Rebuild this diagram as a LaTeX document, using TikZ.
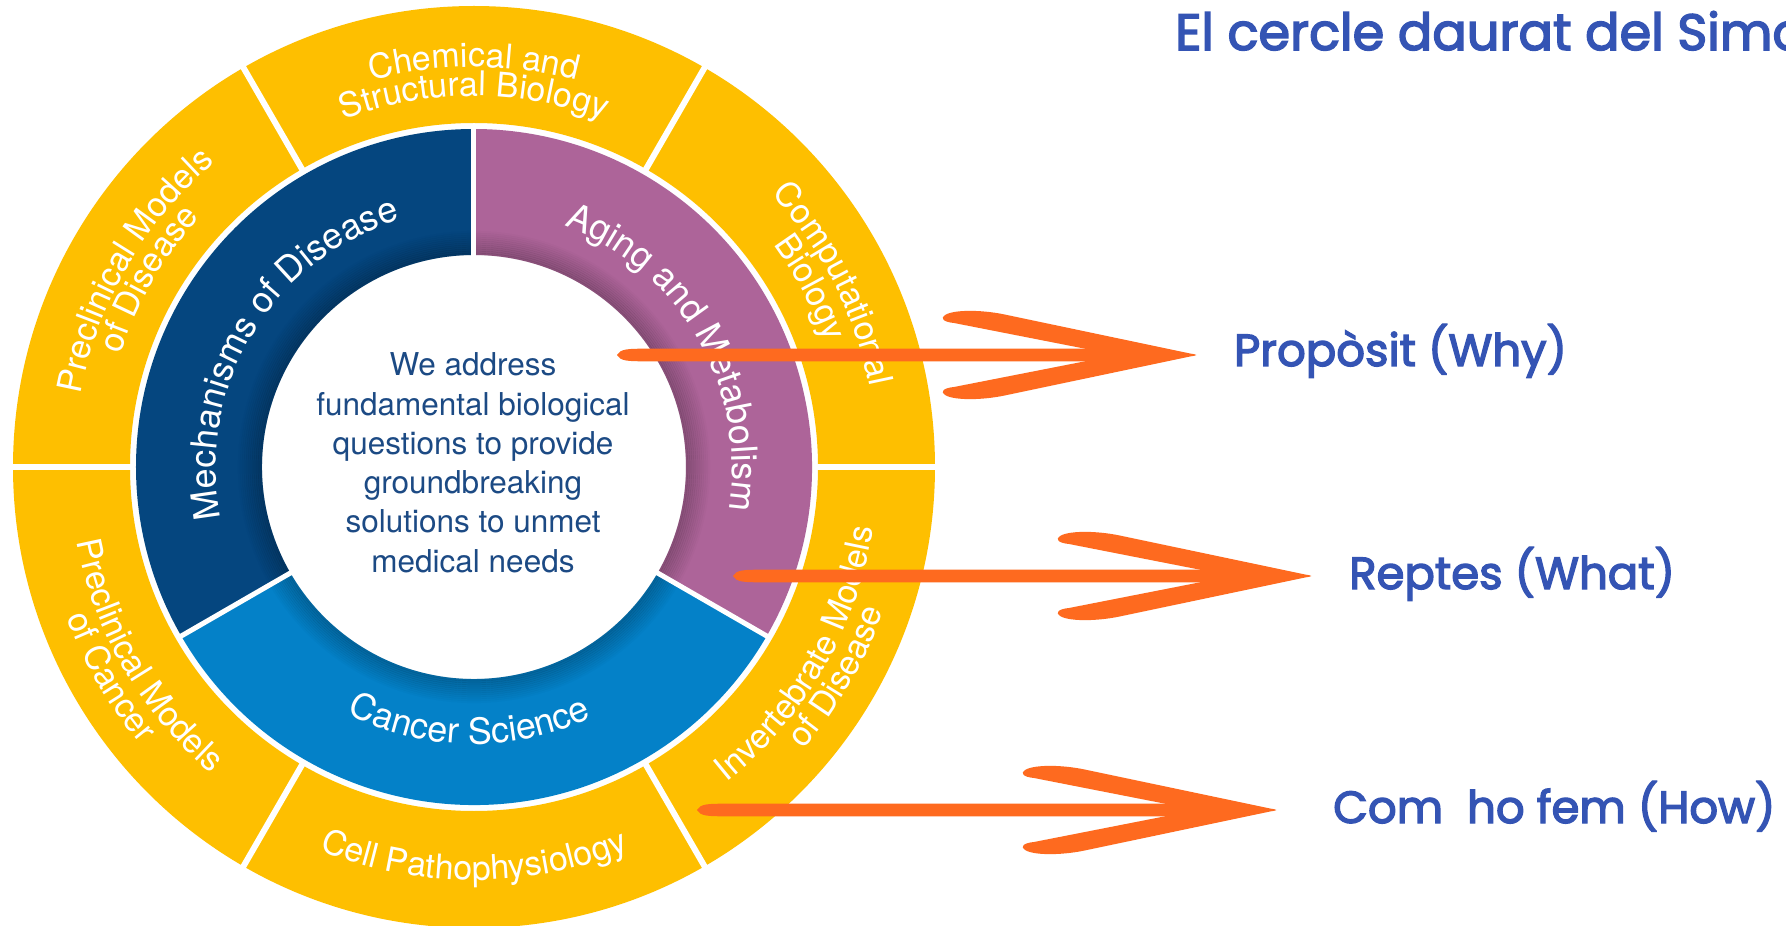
\documentclass[tikz,border=0pt]{standalone}
\usepackage{fontspec}
\setmainfont{TeX Gyre Heros}
\newfontfamily\labelfont{Poppins}[FakeBold=3]
\usetikzlibrary{decorations.text,calc}
\definecolor{ygold}{HTML}{FEBF00}
\definecolor{mdis}{HTML}{05467F}
\definecolor{mpur}{HTML}{AD6499}
\definecolor{mcan}{HTML}{0481C8}
\definecolor{ctext}{HTML}{1C4A84}
\definecolor{lblue}{HTML}{3454B4}
\definecolor{arrowor}{HTML}{FE6A1F}
\newcommand\yfont{\fontsize{34}{40}\selectfont}
\newcommand\mfont{\fontsize{36}{43}\selectfont}
\newcommand\cwlabel[4]{\path[decorate,decoration={text along path,text align=center,text color=white,text={|#3|#4}}] ({#1+85}:#2) arc[start angle={#1+85},end angle={#1-85},radius=#2];}
\newcommand\ccwlabel[4]{\path[decorate,decoration={text along path,text align=center,text color=white,text={|#3|#4}}] ({#1-85}:#2) arc[start angle={#1-85},end angle={#1+85},radius=#2];}
\tikzset{
  arrowfill/.style={fill=arrowor},
  labeltext/.style={font=\labelfont\fontsize{45}{54}\selectfont,text=lblue,inner sep=0pt,anchor=base west},
  titletext/.style={font=\labelfont\fontsize{51}{60}\selectfont,text=lblue,inner sep=0pt,anchor=base west},
  centertext/.style={font=\fontsize{31.5}{39}\selectfont,text=ctext,inner sep=0pt,anchor=base},
  headpic/.pic={\fill[arrowfill] (-6,1.3) .. controls (1,0.4) and (1,-0.4) .. (-6,-1.3)
     -- (-190,-40) .. controls (-212,-45) and (-242,-46) .. (-252,-40)
     .. controls (-257,-37) and (-254,-33) .. (-243,-32) -- (-112,-6.3) -- (-112,6.3) -- (-243,32)
     .. controls (-254,33) and (-257,37) .. (-252,40)
     .. controls (-242,46) and (-212,45) .. (-190,40) -- cycle;}
}
\begin{document}
\begin{tikzpicture}[x=1pt,y=1pt]
\useasboundingbox (-474,-459) rectangle (1312,467);
\fill[white] (-474,-459) rectangle (1312,467);
\clip (-474,-459) rectangle (1312,467);
% outer yellow ring
\fill[ygold,even odd rule] (0,0) circle[radius=461] (0,0) circle[radius=344];
\foreach \a in {0,60,...,300} \draw[white,line width=6] (\a:336) -- (\a:466);
% middle ring
\fill[mdis] (90:338) arc[start angle=90,end angle=210,radius=338] -- (210:212) arc[start angle=210,end angle=90,radius=212] -- cycle;
\fill[mcan] (210:338) arc[start angle=210,end angle=330,radius=338] -- (330:212) arc[start angle=330,end angle=210,radius=212] -- cycle;
\fill[mpur] (-30:338) arc[start angle=-30,end angle=90,radius=338] -- (90:212) arc[start angle=90,end angle=-30,radius=212] -- cycle;
\foreach \i [evaluate=\i as \op using 0.017*(12-\i)] in {0,...,11}
  \draw[black,opacity=\op,line width=2.2] (0,0) circle[radius={213+2*\i}];
\foreach \a in {90,210,330} \draw[white,line width=5] (\a:206) -- (\a:342);
% yellow ring labels
\cwlabel{90}{400}{\yfont}{Chemical and}
\cwlabel{90}{371}{\yfont}{Structural Biology}
\cwlabel{27}{404}{\yfont}{Computational}
\cwlabel{28}{373}{\yfont}{Biology}
\cwlabel{150}{400}{\yfont}{Preclinical Models}
\cwlabel{150}{371}{\yfont}{of Disease}
\ccwlabel{210}{404}{\yfont}{Preclinical Models}
\ccwlabel{210}{434}{\yfont}{of Cancer}
\ccwlabel{270}{413}{\yfont}{Cell Pathophysiology}
\ccwlabel{330}{404}{\yfont}{Invertebrate Models}
\ccwlabel{330}{434}{\yfont}{of Disease}
% middle ring labels
\cwlabel{149}{258}{\mfont}{Mechanisms of Disease}
\cwlabel{30}{258}{\mfont}{Aging and Metabolism}
\ccwlabel{269}{277}{\mfont}{Cancer Science}
% center text
\node[centertext] (c1) at (-1,91) {We address};
\node[centertext] (c2) at (-1,51) {fundamental biological};
\node[centertext] (c3) at (-1,12) {questions to provide};
\node[centertext] (c4) at (-1,-27) {groundbreaking};
\node[centertext] (c5) at (-1,-66) {solutions to unmet};
\node[centertext] (c6) at (-1,-105) {medical needs};
% right side
\node[titletext] (title) at (701,417) {El cercle daurat del Simon Sinek};
\node[labeltext] (why) at (760,101) {Propòsit (Why)};
\node[labeltext] (what) at (875,-122) {Reptes (What)};
\node[labeltext] (how) at (859,-356) {Com\ \ ho fem (How)};
% arrows
\coordinate (w1) at (143,112);  \coordinate (t1) at (723,112);
\coordinate (w2) at (259,-109); \coordinate (t2) at (838,-109);
\coordinate (w3) at (223,-343); \coordinate (t3) at (803,-343);
\foreach \n in {1,2,3}{
  \fill[arrowfill] (w\n) .. controls ([shift={(3,6.3)}]w\n) and ([shift={(12,6.3)}]w\n) .. ([shift={(30,6.3)}]w\n)
     -- ([shift={(-108,6.3)}]t\n) -- ([shift={(-108,-6.3)}]t\n) -- ([shift={(30,-6.3)}]w\n)
     .. controls ([shift={(12,-6.3)}]w\n) and ([shift={(3,-6.3)}]w\n) .. cycle;
  \pic at (t\n) {headpic};
}
\end{tikzpicture}
\end{document}
